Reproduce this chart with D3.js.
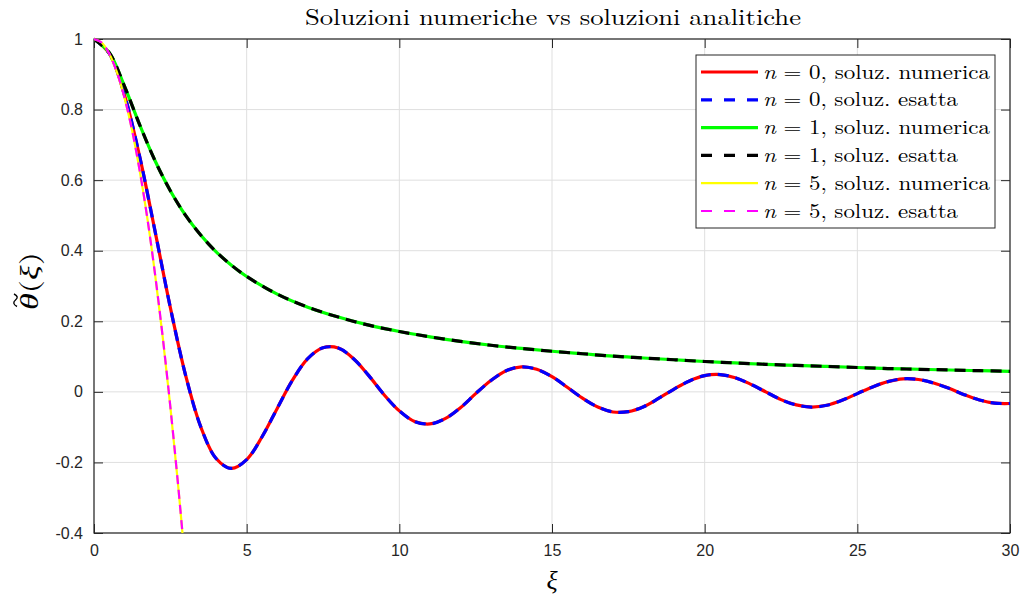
<!DOCTYPE html>
<html><head><meta charset="utf-8">
<script src="https://cdn.jsdelivr.net/npm/d3@7/dist/d3.min.js"></script>
<style>body{margin:0;background:#fff}svg{display:block}</style>
</head><body><svg id="c" width="1023" height="597"></svg>
<script>
// ---- data ----
const xTicks = [0,5,10,15,20,25,30];
const yTicks = [1,0.8,0.6,0.4,0.2,0,-0.2,-0.4];
const yTickLabels = ["1","0.8","0.6","0.4","0.2","0","-0.2","-0.4"];
// oscillating curve (n = 0 series)
const xA = [0,0.5,1,1.5,2,2.5,3,3.5,4,4.5,5,5.5,6,6.5,7,7.5,8,8.5,9,9.5,10,10.5,11,11.5,12,12.5,13,13.5,14,14.5,15,15.5,16,16.5,17,17.5,18,18.5,19,19.5,20,20.5,21,21.5,22,22.5,23,23.5,24,24.5,25,25.5,26,26.5,27,27.5,28,28.5,29,29.5,30];
const yA = [1,0.959,0.841,0.665,0.455,0.239,0.047,-0.100,-0.189,-0.217,-0.192,-0.128,-0.047,0.033,0.094,0.125,0.124,0.094,0.046,-0.008,-0.054,-0.084,-0.091,-0.076,-0.045,-0.005,0.032,0.060,0.071,0.064,0.043,0.013,-0.018,-0.043,-0.057,-0.056,-0.042,-0.018,0.008,0.031,0.046,0.049,0.040,0.022,0.000,-0.022,-0.037,-0.043,-0.038,-0.024,-0.005,0.014,0.029,0.037,0.035,0.025,0.010,-0.008,-0.023,-0.032,-0.033];
// slowly decaying curve (n = 1 series)
const xB = [0,0.5,1,1.5,2,2.5,3,3.5,4,4.5,5,6,7,8,9,10,11,12,13,14,15,16,17,18,19,20,21,22,23,24,25,26,27,28,29,30];
const yB = [1,0.961,0.866,0.756,0.655,0.570,0.500,0.444,0.397,0.359,0.327,0.277,0.240,0.212,0.189,0.171,0.156,0.143,0.132,0.123,0.115,0.108,0.101,0.096,0.091,0.086,0.082,0.078,0.075,0.072,0.069,0.066,0.064,0.062,0.060,0.058];
// steep parabola (n = 5 series)
const xC = [0,0.25,0.5,0.75,1,1.25,1.5,1.75,2,2.25,2.5,2.75,3];
const yC = [1,0.990,0.958,0.906,0.833,0.740,0.625,0.490,0.333,0.156,-0.042,-0.260,-0.500];

const legendN = ["0","0","1","1","5","5"];
const legendKind = ["numerica","esatta","numerica","esatta","numerica","esatta"];
const seriesColors = ["#ff0000","#0000ff","#00ff00","#000000","#ffff00","#ff00ff"];

// ---- layout ----
const svg = d3.select("#c");
const L=94,R=1010,T=39,B=533;
const x = d3.scaleLinear().domain([0,30]).range([L,R]);
const y = d3.scaleLinear().domain([-0.4,1]).range([B,T]);
const axisCol="#262626";

// grid
const g = svg.append("g");
g.selectAll(".gx").data(xTicks).enter().append("line")
  .attr("x1",d=>x(d)).attr("x2",d=>x(d)).attr("y1",T).attr("y2",B)
  .attr("stroke","#dfdfdf").attr("stroke-width",1);
g.selectAll(".gy").data(yTicks).enter().append("line")
  .attr("y1",d=>y(d)).attr("y2",d=>y(d)).attr("x1",L).attr("x2",R)
  .attr("stroke","#dfdfdf").attr("stroke-width",1);

// axes via d3
const fontTick = "'Liberation Sans', Arial, Helvetica, sans-serif";
const ax = svg.append("g").attr("transform",`translate(0,${B})`)
  .call(d3.axisBottom(x).tickValues(xTicks).tickSize(-9).tickPadding(14).tickFormat(d3.format("d")));
const ay = svg.append("g").attr("transform",`translate(${L},0)`)
  .call(d3.axisLeft(y).tickValues(yTicks).tickSize(-9).tickPadding(11).tickFormat((d,i)=>yTickLabels[i]));
[ax,ay].forEach(a=>{
  a.select(".domain").remove();
  a.selectAll("line").attr("stroke",axisCol);
  a.selectAll("text").attr("fill",axisCol).style("font-family",fontTick).style("font-size","16px");
});
ax.selectAll("text").attr("dy","0.71em").attr("y",12);
const at = svg.append("g").attr("transform",`translate(0,${T})`)
  .call(d3.axisTop(x).tickValues(xTicks).tickSize(-9).tickFormat(""));
const ar = svg.append("g").attr("transform",`translate(${R},0)`)
  .call(d3.axisRight(y).tickValues(yTicks).tickSize(-9).tickFormat(""));
[at,ar].forEach(a=>{a.select(".domain").remove();a.selectAll("line").attr("stroke",axisCol);});
svg.append("rect").attr("x",L).attr("y",T).attr("width",R-L).attr("height",B-T)
  .attr("fill","none").attr("stroke",axisCol).attr("stroke-width",1.2);

// clip
svg.append("clipPath").attr("id","clip").append("rect").attr("x",L).attr("y",T-3).attr("width",R-L).attr("height",B-T+3);
const plot = svg.append("g").attr("clip-path","url(#clip)");
const line = d3.line().x(d=>x(d[0])).y(d=>y(d[1])).curve(d3.curveCatmullRom.alpha(0.5));
const A = xA.map((v,i)=>[v,yA[i]]), Bd = xB.map((v,i)=>[v,yB[i]]), C = xC.map((v,i)=>[v,yC[i]]);
const series = [
  {d:A,c:seriesColors[0],w:3.2,dash:null},
  {d:A,c:seriesColors[1],w:3.2,dash:"11,7"},
  {d:Bd,c:seriesColors[2],w:3.2,dash:null},
  {d:Bd,c:seriesColors[3],w:3.2,dash:"11,7"},
  {d:C,c:seriesColors[4],w:2.2,dash:null},
  {d:C,c:seriesColors[5],w:2.2,dash:"9,6"}
];
series.forEach(s=>{
  plot.append("path").attr("d",line(s.d)).attr("fill","none").attr("stroke",s.c)
    .attr("stroke-width",s.w).attr("stroke-dasharray",s.dash);
});

// title
const serif = "'Latin Modern Roman','CMU Serif','Liberation Serif','Times New Roman',serif";
svg.append("text").attr("x",553).attr("y",25).attr("text-anchor","middle")
  .style("font-family",serif).style("font-size","23px").attr("fill","#000")
  .attr("textLength",496).attr("lengthAdjust","spacingAndGlyphs")
  .text("Soluzioni numeriche vs soluzioni analitiche");

// axis labels
svg.append("text").attr("x",552).attr("y",589).attr("text-anchor","middle")
  .style("font-family",serif).style("font-size","26px").style("font-style","italic").text("ξ");
const ylg = svg.append("g").attr("transform","translate(38,310) rotate(-90)");
const yl = ylg.append("text").attr("x",0).attr("y",0)
  .style("font-family",serif).style("font-size","25px")
  .attr("textLength",58).attr("lengthAdjust","spacingAndGlyphs");
yl.append("tspan").style("font-style","italic").text("θ");
yl.append("tspan").text("(");
yl.append("tspan").style("font-style","italic").text("ξ");
yl.append("tspan").text(")");
// tilde accent over theta
ylg.append("path").attr("d","M3.5,-21 C5.5,-25 8,-25 10,-22.5 C12,-20 14,-20 16,-24")
  .attr("fill","none").attr("stroke","#000").attr("stroke-width",1.4);

// legend
const lg = svg.append("g");
lg.append("rect").attr("x",696).attr("y",55).attr("width",299).attr("height",173)
  .attr("fill","#fff").attr("stroke",axisCol).attr("stroke-width",1);
legendN.forEach((nv,i)=>{
  const yy = 72 + i*27.8;
  const s = series[i];
  lg.append("line").attr("x1",701).attr("x2",758).attr("y1",yy).attr("y2",yy)
    .attr("stroke",s.c).attr("stroke-width",s.w)
    .attr("stroke-dasharray", s.dash ? "11,12" : null);
  const t = lg.append("text").attr("x",763).attr("y",yy+6.5)
    .style("font-family",serif).style("font-size","20px").attr("fill","#000")
    .attr("textLength", legendKind[i]==="numerica" ? 227 : 195)
    .attr("lengthAdjust","spacingAndGlyphs");
  t.append("tspan").style("font-style","italic").text("n");
  t.append("tspan").text(" = " + nv + ", soluz. " + legendKind[i]);
});
</script></body></html>
